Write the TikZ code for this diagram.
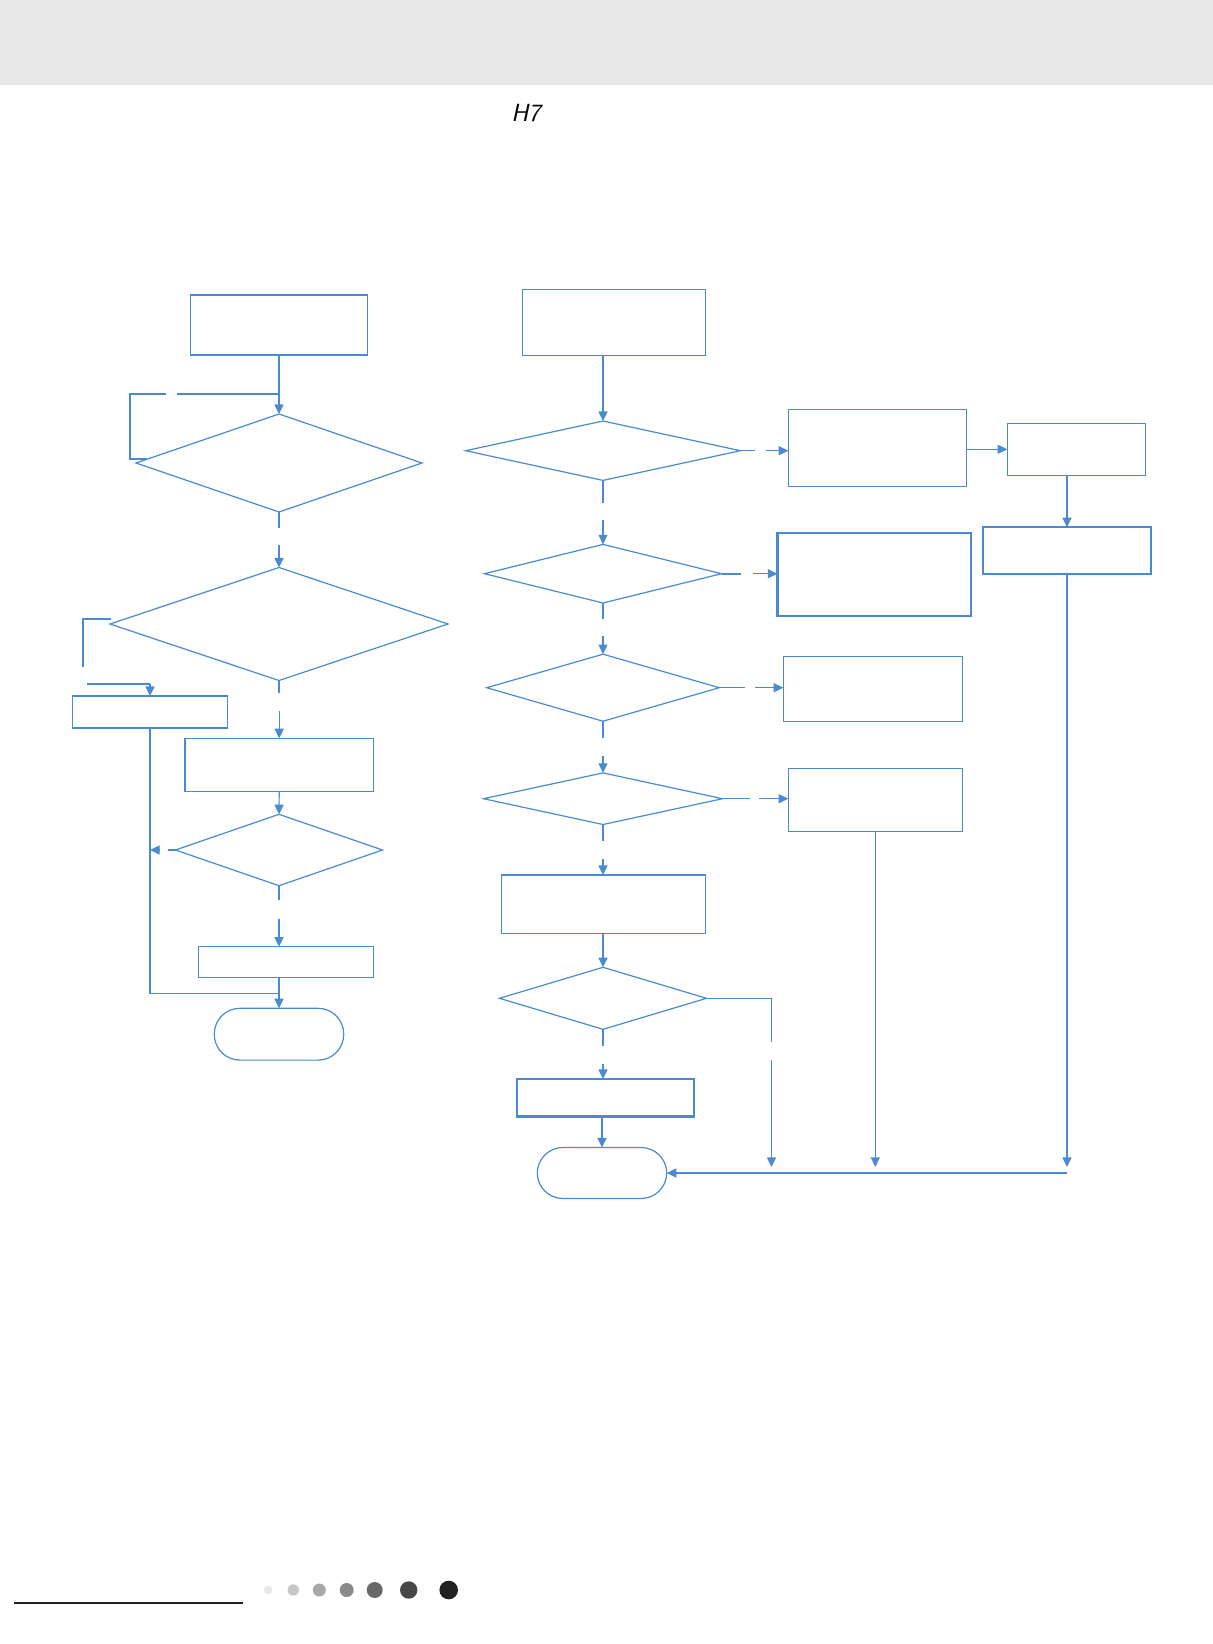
\documentclass[tikz,border=0pt]{standalone}
\usepackage{tikz}
\usetikzlibrary{arrows.meta,calc,shapes.geometric}
\definecolor{flowblue}{RGB}{74,138,208}
\tikzset{
  every picture/.style={line join=miter},
}

\begin{document}
\begin{tikzpicture}[x=0.5pt,y=-0.5pt,
  flow/.style={draw=flowblue,line width=0.6pt},
  arr/.style={flow,-{Triangle[length=4.8pt,width=4.5pt]}},
  box/.style={draw=flowblue,line width=0.6pt,rectangle,inner sep=0pt,outer sep=0pt},
  thickbox/.style={box,line width=1.1pt},
  test/.style={draw=flowblue,line width=0.6pt,diamond,inner sep=0pt,outer sep=0pt},
  term/.style={box,rounded corners=12.8pt}]
\useasboundingbox (0,0) rectangle (1213,1644);
% Page header band and code
\fill[black!9] (0,0) rectangle (1213,85);
\node[font=\fontsize{12.4}{12.4}\sffamily\slshape] (code) at (526,113.5) {H7};

% Left column
\node[box,minimum width=88.5pt,minimum height=30pt]   (a1) at (279,325) {};
\node[test,minimum width=143pt,minimum height=49pt]   (d1) at (279,463) {};
\node[test,minimum width=169pt,minimum height=56.5pt] (d2) at (279,624) {};
\node[box,minimum width=77.4pt,minimum height=16pt]   (b1) at (150,712) {};
\node[box,minimum width=94.2pt,minimum height=26.4pt] (b2) at (279.2,764.7) {};
\node[test,minimum width=103.5pt,minimum height=35.7pt] (d3) at (279,850) {};
\node[box,minimum width=87.5pt,minimum height=15.2pt] (b3) at (285.8,961.9) {};
\node[term,minimum width=64.7pt,minimum height=25.9pt] (t1) at (279,1034.2) {};

\draw[arr] (a1.south) -- (d1.north);
\coordinate (j1) at ($(d1.north)+(0,-20)$);
\draw[flow] ($(d1.west)!0.08!(d1.north)$) -| ($(j1)+(-149,0)$) -- ++(36,0);
\draw[flow] (j1) -- ++(-102,0);
\draw[flow] (d1.south) -- ++(0,16);
\draw[arr] ($(d2.north)+(0,-23)$) -- (d2.north);
\draw[flow] ($(d2.west)+(1,-5)$) -- ++(-28,0) -- ++(0,48);
\draw[flow,line width=1.1pt] ($(b1.north)+(-63,-12)$) -- ++(63,0);
\draw[arr] ($(b1.north)+(0,-12)$) -- (b1.north);
\draw[flow] (d2.south) -- ++(0,12);
\draw[arr] ($(b2.north)+(0,-27)$) -- (b2.north);
\draw[arr] (b2.south) -- (d3.north);
\draw[flow] (d3.west) -- ++(-8,0);
\draw[arr] ($(d3.west)+(-17,0)$) -- (d3.west -| b1.south);
\draw[flow] (b1.south) |- ($(t1.north)+(0,-15)$);
\draw[flow] (d3.south) -- ++(0,14);
\draw[arr] ($(b3.north -| d3.south)+(0,-28)$) -- (b3.north -| d3.south);
\draw[arr] (b3.south -| t1.north) -- (t1.north);

% Right column
\node[box,minimum width=91.5pt,minimum height=32.9pt]    (c1) at (613.8,322.2) {};
\node[test,minimum width=137.4pt,minimum height=29.7pt]  (d4) at (603,450.7) {};
\node[test,minimum width=118.5pt,minimum height=29.3pt]  (d5) at (603,573.7) {};
\node[test,minimum width=116.3pt,minimum height=33.5pt]  (d6) at (603,687.7) {};
\node[test,minimum width=119.5pt,minimum height=25.8pt]  (d7) at (603,798.7) {};
\node[box,minimum width=101.8pt,minimum height=29.2pt]   (c2) at (603.5,904.2) {};
\node[test,minimum width=103.5pt,minimum height=31pt]    (d8) at (603,998.3) {};
\node[thickbox,minimum width=88.8pt,minimum height=18.7pt] (c3) at (605.5,1097.7) {};
\node[term,minimum width=64.7pt,minimum height=25.5pt]   (t2) at (602,1173) {};

\draw[arr] (c1.south -| d4.north) -- (d4.north);
\draw[flow] (d4.south) -- ++(0,23);
\draw[arr] ($(d5.north)+(0,-24)$) -- (d5.north);
\draw[flow] (d5.south) -- ++(0,16);
\draw[arr] ($(d6.north)+(0,-18)$) -- (d6.north);
\draw[flow] (d6.south) -- ++(0,17);
\draw[arr] ($(d7.north)+(0,-17)$) -- (d7.north);
\draw[flow] (d7.south) -- ++(0,16);
\draw[arr] ($(c2.north -| d7.south)+(0,-16)$) -- (c2.north -| d7.south);
\draw[arr] (c2.south -| d8.north) -- (d8.north);
\draw[flow] (d8.south) -- ++(0,17);
\draw[arr] ($(c3.north -| d8.south)+(0,-15)$) -- (c3.north -| d8.south);
\draw[arr] (c3.south -| t2.north) -- (t2.north);

% Side boxes
\node[box,minimum width=89.2pt,minimum height=38.5pt]      (e1) at (877.5,447.8) {};
\node[box,minimum width=69.2pt,minimum height=26pt]        (e2) at (1076.5,449.3) {};
\node[thickbox,minimum width=84.3pt,minimum height=23.4pt] (e3) at (1067,550.7) {};
\node[thickbox,minimum width=96.6pt,minimum height=41.4pt] (e4) at (874.1,574.7) {};
\node[box,minimum width=89.5pt,minimum height=32.5pt]      (e5) at (872.8,688.8) {};
\node[box,minimum width=87pt,minimum height=31.5pt]        (e6) at (875.3,799.8) {};

\draw[flow] (d4.east) -- ++(15,0);
\draw[arr] ($(d4.east -| e1.west)+(-22,0)$) -- (d4.east -| e1.west);
\draw[flow,line width=1.1pt] (d5.east) -- ++(19,0);
\draw[arr] ($(d5.east -| e4.west)+(-25,0)$) -- (d5.east -| e4.west);
\draw[flow] (d6.east) -- ++(26,0);
\draw[arr] ($(d6.east -| e5.west)+(-28,0)$) -- (d6.east -| e5.west);
\draw[flow] (d7.east) -- ++(27,0);
\draw[arr] ($(d7.east -| e6.west)+(-29,0)$) -- (d7.east -| e6.west);
\draw[arr] (e2.west -| e1.east) -- (e2.west);
\draw[arr] (e3.north |- e2.south) -- (e3.north);
\draw[flow] (d8.east) -| ++(65,44);
\draw[arr] ($(d8.east)+(65,62)$) -- ($(d8.east |- t2.east)+(65,-6)$);
\draw[arr] (e6.south) -- ($(e6.south |- t2.east)+(0,-6)$);
\draw[arr] (e3.south) -- ($(e3.south |- t2.east)+(0,-6)$);
\draw[arr] (e3.south |- t2.east) -- (t2.east);

% Footer rule and dots
\draw[line width=0.85pt,black!88] (14,1602.7) -- (242.7,1602.7);
\foreach \x/\r/\g in {268.3/2.15/9, 293.3/2.85/22, 319.3/3.25/34, 346.7/3.5/46,
                      374.7/4/59, 408.7/4.35/72, 448.7/4.65/87}
  \fill[black!\g] (\x,1590) circle[radius=\r pt];
\end{tikzpicture}
\end{document}
